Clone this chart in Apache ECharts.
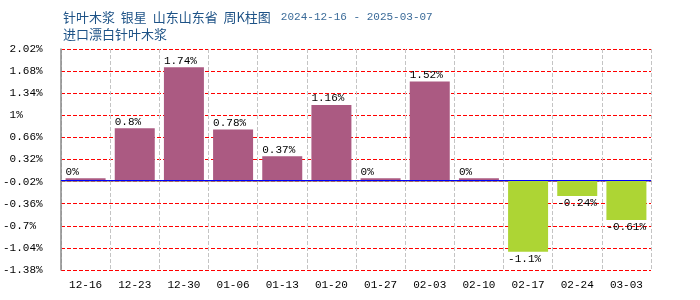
<!DOCTYPE html>
<html><head><meta charset="utf-8">
<script src="https://cdn.jsdelivr.net/npm/echarts@6/dist/echarts.min.js"></script>
<style>html,body{margin:0;padding:0;background:#fff}#c{width:700px;height:300px}</style>
</head><body><div id="c"></div>
<script>
var categories = ['12-16','12-23','12-30','01-06','01-13','01-20','01-27','02-03','02-10','02-17','02-24','03-03'];
var values = [0, 0.8, 1.74, 0.78, 0.37, 1.16, 0, 1.52, 0, -1.1, -0.24, -0.61];
var yTicks = [-1.38, -1.04, -0.7, -0.36, -0.02, 0.32, 0.66, 1, 1.34, 1.68, 2.02];
var titleMain = '针叶木浆  银星  山东山东省  周K柱图';
var titleDate = '2024-12-16 - 2025-03-07';
var subTitle = '进口漂白针叶木浆';

var POS = '#AB5A82', NEG = '#ADD534';
var mono = '"Liberation Mono", "DejaVu Sans Mono", monospace';
function fmt(v){ return String(+(+v).toFixed(2)) + '%'; }

var yMin = yTicks[0], yMax = yTicks[yTicks.length - 1];
var yStep = +(yTicks[1] - yTicks[0]).toFixed(2);
var ySpan = +(yMax - yMin).toFixed(2);

var chart = echarts.init(document.getElementById('c'), null, {renderer:'canvas'});
var data = values.map(function(v){
  var neg = v < 0;
  return {
    value: v,
    itemStyle: {color: neg ? NEG : POS},
    label: {position: neg ? 'bottom' : 'top', align: 'left', offset: [-20, neg ? 0 : 1]}
  };
});
chart.setOption({
  animation: false,
  title: [
    {text: '{a|' + titleMain + '}  {b|' + titleDate + '}', left: 58, top: 3,
     textStyle: {fontWeight: 'normal', rich: {
       a: {fontFamily: '"Noto Sans CJK SC"', fontSize: 13, color: '#1d5286', fontWeight: 'normal'},
       b: {fontFamily: mono, fontSize: 11, color: '#3a6a98', fontWeight: 'normal'}
     }}},
    {text: subTitle, left: 58, top: 23, textStyle: {fontFamily: '"Noto Sans CJK SC"', fontSize: 13, color: '#1d5286', fontWeight: 'normal'}}
  ],
  grid: {left: 60, right: 49, top: 49, bottom: 30},
  xAxis: {
    type: 'category', data: categories,
    axisLine: {lineStyle: {color: '#888', width: 1.5}},
    axisTick: {show: false},
    axisLabel: {color: '#000', fontFamily: mono, fontSize: 11, margin: 10},
    splitLine: {show: true, lineStyle: {color: '#c4c4c4', type: 'dashed', width: 1}}
  },
  yAxis: [{
    type: 'value', min: yMin, max: yMax,
    axisLine: {show: true, lineStyle: {color: '#888', width: 1.5}},
    axisTick: {show: false},
    axisLabel: {customValues: yTicks, color: '#000', fontFamily: mono, fontSize: 11, align: 'left', margin: 58,
      formatter: function(v){ return (v < 0 ? '' : ' ') + fmt(v); }},
    splitLine: {show: false}
  }, {
    type: 'value', min: 0, max: ySpan, interval: yStep, position: 'left',
    axisLine: {show: false}, axisTick: {show: false}, axisLabel: {show: false},
    splitLine: {show: true, lineStyle: {color: '#f00', type: 'dashed', width: 1}}
  }],
  series: [{
    type: 'bar', data: data, barWidth: 40, barMinHeight: 2,
    label: {show: true, color: '#000', fontFamily: mono, fontSize: 11, distance: 2,
      formatter: function(p){ return fmt(p.value); }},
    markLine: {silent: true, symbol: 'none', label: {show: false},
      lineStyle: {color: '#00f', type: 'solid', width: 1}, data: [{yAxis: 0}]}
  }]
});
</script></body></html>
